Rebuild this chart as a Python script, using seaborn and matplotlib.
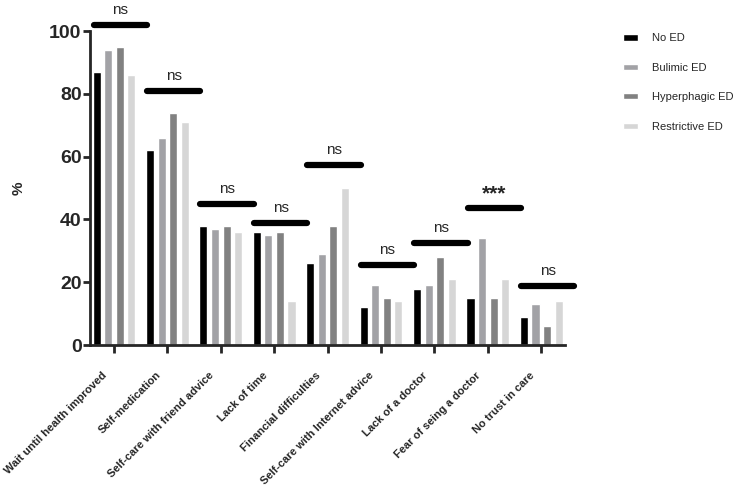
import pandas as pd
import matplotlib.pyplot as plt
import matplotlib.transforms as mtransforms
import seaborn as sns

# Reasons for not seeking care, by eating disorder group (%)
reasons = ['Wait until health improved', 'Self-medication', 'Self-care with friend advice',
           'Lack of time', 'Financial difficulties', 'Self-care with Internet advice',
           'Lack of a doctor', 'Fear of seing a doctor', 'No trust in care']
groups = ['No ED', 'Bulimic ED', 'Hyperphagic ED', 'Restrictive ED']

no_ed = [87, 62, 38, 36, 26, 12, 18, 15, 9]
bulimic = [94, 66, 37, 35, 29, 19, 19, 34, 13]
hyperphagic = [95, 74, 38, 36, 38, 15, 28, 15, 6]
restrictive = [86, 71, 36, 14, 50, 14, 21, 21, 14]

sig_labels = ['ns', 'ns', 'ns', 'ns', 'ns', 'ns', 'ns', '***', 'ns']
sig_height = [102, 81, 45, 39, 57.3, 25.5, 32.5, 43.6, 18.8]

palette = ['#000000', '#a2a2a6', '#818181', '#d6d6d6']

# long format table for seaborn
df = pd.DataFrame({
    'Reason': reasons * 4,
    'Group': [g for g in groups for _ in reasons],
    'Pct': no_ed + bulimic + hyperphagic + restrictive,
})

sns.set_style("ticks")
plt.rcParams['font.family'] = ['Liberation Sans', 'DejaVu Sans']

fig = plt.figure(figsize=(7.37, 4.95), dpi=100)
ax = fig.add_axes([0.122, 0.303, 0.645, 0.634])

sns.barplot(data=df, x='Reason', y='Pct', hue='Group', order=reasons, hue_order=groups,
            palette=palette, width=0.865, gap=0.3, saturation=1, ax=ax)

ax.set_xlim(-0.45, 8.45)
ax.set_ylim(0, 100)
ax.set_yticks([0, 20, 40, 60, 80, 100])
ax.set_xlabel('')
ax.set_ylabel('%', fontsize=11, fontweight='bold', labelpad=17)
ax.tick_params(axis='y', labelsize=14, width=2, length=5, pad=1)
ax.tick_params(axis='x', width=2, length=6, pad=12)
for lab in ax.get_yticklabels():
    lab.set_fontweight('bold')
ax.set_xticks(range(len(reasons)))
ax.set_xticklabels(reasons, rotation=45, ha='right', rotation_mode='anchor',
                   fontsize=8, fontweight='bold')
# nudge rotated labels left like the original
shift = mtransforms.ScaledTranslation(-12 / 100, 0, fig.dpi_scale_trans)
for lab in ax.get_xticklabels():
    lab.set_transform(lab.get_transform() + shift)
sns.despine(ax=ax)
for s in ['left', 'bottom']:
    ax.spines[s].set_linewidth(2)

# significance bars
for i, (lab, h) in enumerate(zip(sig_labels, sig_height)):
    ax.plot([i - 0.38, i + 0.62], [h, h], color='black', lw=4.5,
            solid_capstyle='round', clip_on=False)
    if lab == '***':
        ax.text(i + 0.12, h + 1.5, lab, ha='center', va='bottom', fontsize=15,
                fontweight='bold', clip_on=False)
    else:
        ax.text(i + 0.12, h + 2.5, lab, ha='center', va='bottom', fontsize=11,
                clip_on=False)

handles, labels = ax.get_legend_handles_labels()
ax.legend(handles, labels, loc='upper left', bbox_to_anchor=(1.1, 1.025), frameon=False,
          fontsize=8, handlelength=1.4, handleheight=0.5, labelspacing=1.75,
          handletextpad=1.2)

plt.savefig('out.png', dpi=100)
